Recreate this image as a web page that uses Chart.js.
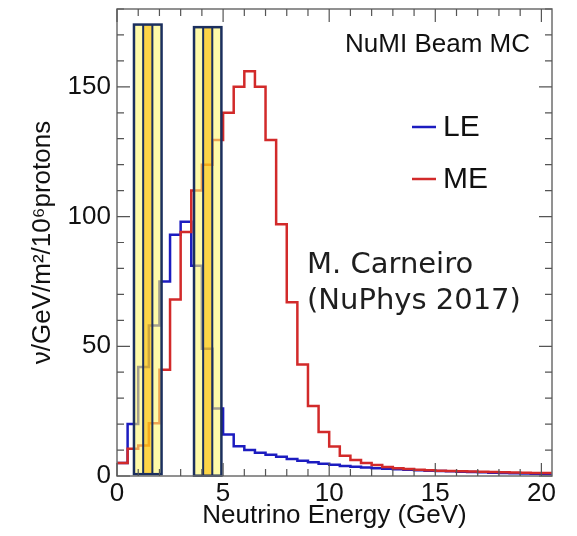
<!DOCTYPE html>
<html>
<head>
<meta charset="utf-8">
<script src="https://cdn.jsdelivr.net/npm/chart.js"></script>
<style>
  html, body { margin: 0; padding: 0; background: #fff; }
  #wrap { width: 577px; height: 536px; }
</style>
</head>
<body>
<div id="wrap"><canvas id="flux" width="577" height="536"></canvas></div>
<script>
// bin edges in GeV (0.5 GeV bins)
const binEdges = [0, 0.5, 1, 1.5, 2, 2.5, 3, 3.5, 4, 4.5, 5, 5.5, 6, 6.5, 7, 7.5, 8, 8.5, 9, 9.5, 10,
  10.5, 11, 11.5, 12, 12.5, 13, 13.5, 14, 14.5, 15, 15.5, 16, 16.5, 17, 17.5, 18, 18.5, 19, 19.5, 20, 20.5];
const leFlux = [5, 20, 42, 58, 75, 93, 98, 81, 49, 26, 16, 11.5, 10, 9, 8.2, 7.4, 6.6, 5.9, 5.3, 4.7,
  4.3, 3.9, 3.6, 3.3, 3.0, 2.8, 2.6, 2.4, 2.2, 2.0, 1.9, 1.8, 1.6, 1.5, 1.4, 1.3, 1.2, 1.1, 1.0, 0.9, 0.9];
const meFlux = [5, 10.5, 11.8, 20.3, 41, 68, 94, 110, 120, 129.5, 140, 150, 156, 150, 129.5, 97, 67, 43, 27, 17,
  11.4, 7.8, 6.2, 5, 4.2, 3.5, 3.0, 2.7, 2.4, 2.2, 2.0, 1.9, 1.8, 1.7, 1.6, 1.5, 1.4, 1.35, 1.3, 1.2, 1.2];
const xTicks = [0, 5, 10, 15, 20];
const yTicks = [0, 50, 100, 150];
const xMinorStep = 1;
const yMinorStep = 10;
// highlighted energy bands (GeV) and their heights
const bandStart = [0.8, 3.63];
const bandEnd = [2.1, 4.92];
const bandTop = [174, 173];
const bandBottom = [0.7, 0.1];

function histPoints(vals) {
  const pts = vals.map((v, i) => ({ x: binEdges[i], y: v }));
  pts.push({ x: binEdges[vals.length], y: vals[vals.length - 1] });
  return pts;
}

const overlay = {
  id: 'overlay',
  afterDatasetsDraw(chart) {
    const ctx = chart.ctx;
    const xs = chart.scales.x, ys = chart.scales.y;
    ctx.save();
    for (let i = 0; i < bandStart.length; i++) {
      const x0 = xs.getPixelForValue(bandStart[i]);
      const x1 = xs.getPixelForValue(bandEnd[i]);
      const y0 = ys.getPixelForValue(bandTop[i]);
      const y1 = ys.getPixelForValue(bandBottom[i]);
      const w = (x1 - x0) / 3;
      ctx.fillStyle = 'rgba(255,246,110,0.6)';
      ctx.fillRect(x0, y0, w, y1 - y0);
      ctx.fillRect(x0 + 2 * w, y0, w, y1 - y0);
      ctx.fillStyle = 'rgba(251,201,24,0.8)';
      ctx.fillRect(x0 + w, y0, w, y1 - y0);
      ctx.strokeStyle = '#1b2f5e';
      ctx.lineWidth = 2;
      ctx.beginPath();
      ctx.moveTo(x0 + w, y0); ctx.lineTo(x0 + w, y1);
      ctx.moveTo(x0 + 2 * w, y0); ctx.lineTo(x0 + 2 * w, y1);
      ctx.stroke();
      ctx.lineWidth = 2.5;
      ctx.strokeRect(x0, y0, x1 - x0, y1 - y0);
    }
    ctx.restore();
  },
  afterDraw(chart) {
    const ctx = chart.ctx;
    const a = chart.chartArea;
    const xs = chart.scales.x, ys = chart.scales.y;
    ctx.save();
    // frame
    ctx.strokeStyle = '#6e6e6e';
    ctx.lineWidth = 1.5;
    ctx.strokeRect(a.left, a.top, a.right - a.left, a.bottom - a.top);
    // ticks on all four sides, pointing inward
    ctx.lineWidth = 1.2;
    ctx.strokeStyle = '#555';
    ctx.beginPath();
    for (let v = 0; v <= ys.max; v += yMinorStep) {
      const y = ys.getPixelForValue(v);
      const len = v % 50 === 0 ? 13 : 7;
      ctx.moveTo(a.left, y); ctx.lineTo(a.left + len, y);
      ctx.moveTo(a.right, y); ctx.lineTo(a.right - len, y);
    }
    for (let v = 0; v <= xs.max; v += xMinorStep) {
      const x = xs.getPixelForValue(v);
      const len = v % 5 === 0 ? 13 : 7;
      ctx.moveTo(x, a.bottom); ctx.lineTo(x, a.bottom - len);
      ctx.moveTo(x, a.top); ctx.lineTo(x, a.top + len);
    }
    ctx.stroke();

    // labels
    ctx.fillStyle = '#111';
    ctx.textBaseline = 'middle';
    ctx.font = '26px "Liberation Sans", Arial, sans-serif';
    ctx.textAlign = 'right';
    ctx.fillText('NuMI Beam MC', 530, 45);

    // legend
    ctx.textAlign = 'left';
    ctx.font = '30px "Liberation Sans", Arial, sans-serif';
    const legend = [['LE', '#1c1cc0', 127], ['ME', '#d22a2a', 179]];
    legend.forEach(([name, col, y]) => {
      ctx.strokeStyle = col;
      ctx.lineWidth = 2.5;
      ctx.beginPath();
      ctx.moveTo(412, y); ctx.lineTo(436, y);
      ctx.stroke();
      ctx.fillText(name, 443, y + 1);
    });

    ctx.fillStyle = '#1e1e1e';
    ctx.font = '29px "DejaVu Sans", sans-serif';
    ctx.fillText('M. Carneiro', 307, 265);
    ctx.fillText('(NuPhys 2017)', 307, 301);
    ctx.restore();
  }
};

new Chart(document.getElementById('flux'), {
  type: 'line',
  data: {
    datasets: [
      { label: 'LE', data: histPoints(leFlux), borderColor: '#1c1cc0', borderWidth: 2.5, order: 2 },
      { label: 'ME', data: histPoints(meFlux), borderColor: '#d22a2a', borderWidth: 2.5, order: 1 }
    ]
  },
  options: {
    responsive: false,
    animation: false,
    devicePixelRatio: 1,
    layout: { padding: { top: 9, right: 25, left: 0, bottom: 0 } },
    elements: {
      line: { stepped: 'before', tension: 0, fill: false },
      point: { radius: 0 }
    },
    plugins: { legend: { display: false }, tooltip: { enabled: false } },
    scales: {
      x: {
        type: 'linear', min: 0, max: 20.5,
        afterBuildTicks: s => { s.ticks = xTicks.map(v => ({ value: v })); },
        afterFit: s => { s.height = 60; s.paddingLeft = 0; s.paddingRight = 0; },
        grid: { display: false, drawTicks: false },
        border: { display: false },
        ticks: { padding: 2, color: '#111', font: { size: 26, family: '"Liberation Sans", Arial, sans-serif' }, maxRotation: 0 },
        title: { display: true, text: 'Neutrino Energy (GeV)', color: '#111', padding: { top: 0, bottom: 5 },
          font: { size: 26, family: '"Liberation Sans", Arial, sans-serif' } }
      },
      y: {
        min: 0, max: 180,
        afterBuildTicks: s => { s.ticks = yTicks.map(v => ({ value: v })); },
        afterFit: s => { s.width = 117; s.paddingTop = 0; s.paddingBottom = 0; },
        grid: { display: false, drawTicks: false },
        border: { display: false },
        ticks: { padding: 6, color: '#111', font: { size: 26, family: '"Liberation Sans", Arial, sans-serif' } },
        title: { display: true, text: 'ν/GeV/m²/10⁶protons', color: '#111', padding: { top: 27, bottom: 0 },
          font: { size: 26, family: '"Liberation Sans", Arial, sans-serif' } }
      }
    }
  },
  plugins: [overlay]
});
</script>
</body>
</html>
